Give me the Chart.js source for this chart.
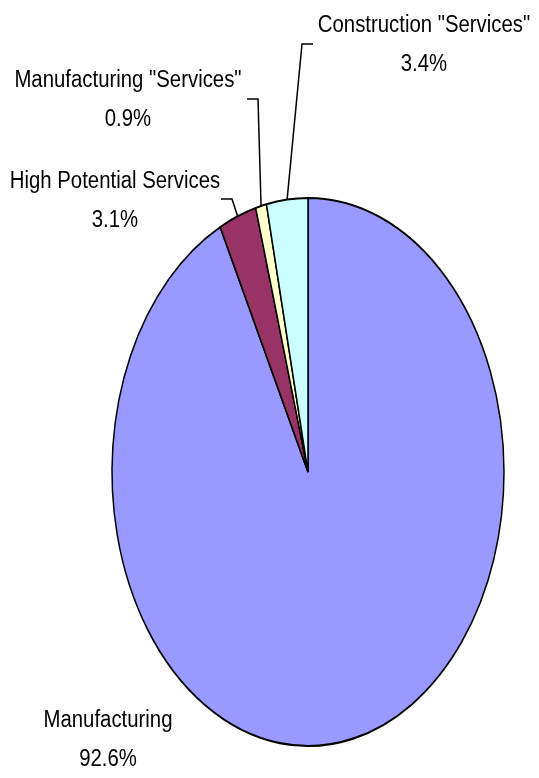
<!DOCTYPE html>
<html>
<head>
<meta charset="utf-8">
<script src="https://cdn.jsdelivr.net/npm/chart.js@4.4.1/dist/chart.umd.min.js"></script>
<style>
  html, body { margin: 0; padding: 0; background: #fff; }
  #wrap { position: relative; width: 539px; height: 778px; overflow: hidden; }
  #pie { position: absolute; left: 0; top: 0; }
  .lbl {
    position: absolute; width: 300px; text-align: center;
    font-family: "Liberation Sans", Arial, sans-serif; font-size: 23px; line-height: 39px;
    color: #000; white-space: nowrap; transform: scaleX(0.885); transform-origin: 50% 0;
  }
</style>
</head>
<body>
<div id="wrap">
  <canvas id="pie" width="539" height="778"></canvas>
</div>
<script>
const categories = ['Manufacturing', 'High Potential Services', 'Manufacturing "Services"', 'Construction "Services"'];
const shares = [92.6, 3.1, 0.9, 3.4];
const sliceColors = ['#9999FF', '#993366', '#FFFFCC', '#CCFFFF'];

// where each label sits (center x, top y) and its leader line (end, elbow); null = no leader
const labelPos = [
  { cx: 108, top: 699.5, leader: null },
  { cx: 114.5, top: 160.5, leader: [[221, 199], [232, 199]] },
  { cx: 128, top: 59.5, leader: [[247, 99], [258, 99]] },
  { cx: 423.5, top: 4.5, leader: [[313, 44], [302, 44]] }
];

const CX = 308, CY = 472, R = 196.75, SY = 274 / 196;

const stretch = {
  id: 'stretch',
  beforeDatasetsDraw(chart) {
    const ctx = chart.ctx;
    ctx.save();
    ctx.translate(CX, CY);
    ctx.scale(1, SY);
    ctx.translate(-CX, -CY);
  },
  afterDatasetsDraw(chart) {
    chart.ctx.restore();
  },
  afterDraw(chart) {
    const ctx = chart.ctx;
    const arcs = chart.getDatasetMeta(0).data;
    ctx.save();
    ctx.strokeStyle = '#000';
    ctx.lineWidth = 1.5;
    arcs.forEach((arc, i) => {
      const lp = labelPos[i];
      if (!lp.leader) return;
      const mid = (arc.startAngle + arc.endAngle) / 2;
      const ax = arc.x + arc.outerRadius * Math.cos(mid);
      const ay = arc.y + arc.outerRadius * Math.sin(mid) * SY;
      ctx.beginPath();
      ctx.moveTo(lp.leader[0][0], lp.leader[0][1]);
      ctx.lineTo(lp.leader[1][0], lp.leader[1][1]);
      ctx.lineTo(ax, ay);
      ctx.stroke();
    });
    ctx.restore();
  }
};

const chart = new Chart(document.getElementById('pie'), {
  type: 'pie',
  data: {
    labels: categories,
    datasets: [{
      data: shares,
      backgroundColor: sliceColors,
      borderColor: '#000',
      borderWidth: 1.5,
      clip: false
    }]
  },
  options: {
    responsive: false,
    animation: false,
    layout: {
      padding: { left: CX - R, right: 539 - CX - R, top: CY - R, bottom: 778 - CY - R }
    },
    plugins: {
      legend: { display: false },
      tooltip: { enabled: false }
    }
  },
  plugins: [stretch]
});

// labels as text
const wrap = document.getElementById('wrap');
categories.forEach((name, i) => {
  const d = document.createElement('div');
  d.className = 'lbl';
  d.style.left = (labelPos[i].cx - 150) + 'px';
  d.style.top = labelPos[i].top + 'px';
  const a = document.createElement('div');
  a.textContent = name;
  const b = document.createElement('div');
  b.textContent = shares[i].toFixed(1) + '%';
  d.appendChild(a);
  d.appendChild(b);
  wrap.appendChild(d);
});
</script>
</body>
</html>
